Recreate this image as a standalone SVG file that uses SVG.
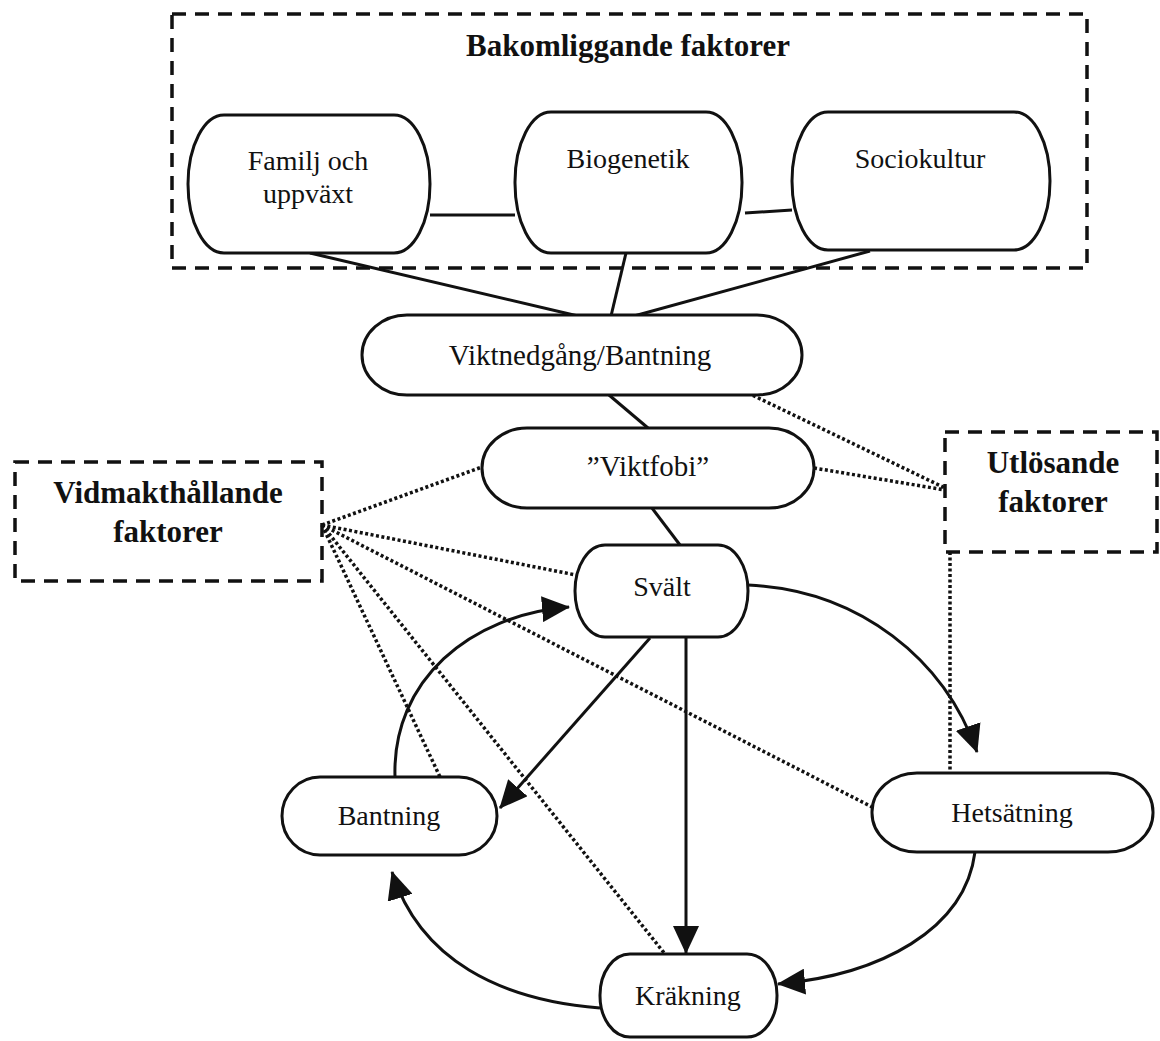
<svg xmlns="http://www.w3.org/2000/svg" width="1160" height="1041" viewBox="0 0 1160 1041">
<style>
.bg{fill:#ffffff}
.node{fill:#ffffff;stroke:#111;stroke-width:3}
.dash{fill:none;stroke:#111;stroke-width:3.5;stroke-dasharray:14 9}
.lbl{font-family:"Liberation Serif","Times New Roman",serif;font-size:28px;fill:#111;text-anchor:middle}
.head{font-family:"Liberation Serif","Times New Roman",serif;font-size:31px;font-weight:bold;fill:#111;text-anchor:middle}
.solid{fill:none;stroke:#111;stroke-width:3}
.dot{fill:none;stroke:#111;stroke-width:3.5;stroke-dasharray:3 2.5}
.arrow{fill:none;stroke:#111;stroke-width:3;marker-end:url(#ah)}
</style>
<defs>
<marker id="ah" markerUnits="userSpaceOnUse" markerWidth="28" markerHeight="26" viewBox="0 0 28 26" refX="27" refY="13" orient="auto">
<path d="M0,0 L28,13 L0,26 z" fill="#111"/>
</marker>
</defs>
<rect class="bg" x="0" y="0" width="1160" height="1041"/>

<g id="connectors">
<line class="solid" x1="430" y1="215" x2="515" y2="215"/>
<line class="solid" x1="745" y1="213" x2="792" y2="210"/>
<line class="solid" x1="310" y1="253" x2="578" y2="316"/>
<line class="solid" x1="626" y1="253" x2="611" y2="316"/>
<line class="solid" x1="870" y1="251" x2="634" y2="316"/>
<line class="solid" x1="609" y1="395" x2="648" y2="428"/>
<line class="solid" x1="652" y1="508" x2="680" y2="545"/>
<line class="dot" x1="748" y1="393" x2="945" y2="488"/>
<line class="dot" x1="814" y1="468" x2="945" y2="490"/>
<line class="dot" x1="950" y1="552" x2="950" y2="773"/>
<line class="dot" x1="322" y1="525" x2="482" y2="467"/>
<line class="dot" x1="322" y1="525" x2="576" y2="575"/>
<line class="dot" x1="322" y1="525" x2="872" y2="807"/>
<line class="dot" x1="322" y1="525" x2="665" y2="954"/>
<line class="dot" x1="322" y1="525" x2="440" y2="777"/>
<path class="arrow" d="M748,585 C860,590 945,660 977,752"/>
<path class="arrow" d="M975,852 C965,930 880,975 778,984"/>
<path class="arrow" d="M600,1008 C500,1000 420,960 392,872"/>
<path class="arrow" d="M395,777 C392,680 470,615 569,607"/>
<path class="arrow" d="M650,638 L500,808"/>
<path class="arrow" d="M686,637 L686,953"/>
</g>

<g id="bakomliggande">
<rect class="dash" x="172" y="14" width="915" height="254"/>
<text class="head" x="628" y="56">Bakomliggande faktorer</text>
</g>
<g id="familj">
<rect class="node" x="188" y="115" width="242" height="138" rx="36" ry="69"/>
<text class="lbl" x="308" y="170">Familj och</text>
<text class="lbl" x="308" y="203">uppväxt</text>
</g>
<g id="biogenetik">
<rect class="node" x="515" y="112" width="227" height="141" rx="36" ry="70"/>
<text class="lbl" x="628" y="168">Biogenetik</text>
</g>
<g id="sociokultur">
<rect class="node" x="792" y="112" width="258" height="138" rx="36" ry="69"/>
<text class="lbl" x="920" y="168">Sociokultur</text>
</g>
<g id="viktnedgang">
<rect class="node" x="362" y="315" width="440" height="80" rx="45" ry="40"/>
<text class="lbl" x="580" y="365" style="font-size:29px">Viktnedgång/Bantning</text>
</g>
<g id="viktfobi">
<rect class="node" x="482" y="428" width="332" height="80" rx="45" ry="40"/>
<text class="lbl" x="648" y="476" style="font-size:29px">”Viktfobi”</text>
</g>
<g id="vidmakthallande">
<rect class="dash" x="15" y="462" width="307" height="119"/>
<text class="head" x="168" y="503">Vidmakthållande</text>
<text class="head" x="168" y="542">faktorer</text>
</g>
<g id="utlosande">
<rect class="dash" x="945" y="432" width="212" height="120"/>
<text class="head" x="1053" y="473">Utlösande</text>
<text class="head" x="1053" y="512">faktorer</text>
</g>
<g id="svalt">
<rect class="node" x="575" y="545" width="173" height="92" rx="30" ry="46"/>
<text class="lbl" x="662" y="596">Svält</text>
</g>
<g id="bantning">
<rect class="node" x="282" y="777" width="215" height="78" rx="38" ry="39"/>
<text class="lbl" x="389" y="825">Bantning</text>
</g>
<g id="hetsatning">
<rect class="node" x="872" y="773" width="281" height="79" rx="45" ry="39"/>
<text class="lbl" x="1012" y="822">Hetsätning</text>
</g>
<g id="krakning">
<rect class="node" x="600" y="954" width="177" height="83" rx="30" ry="41"/>
<text class="lbl" x="688" y="1005">Kräkning</text>
</g>
</svg>
